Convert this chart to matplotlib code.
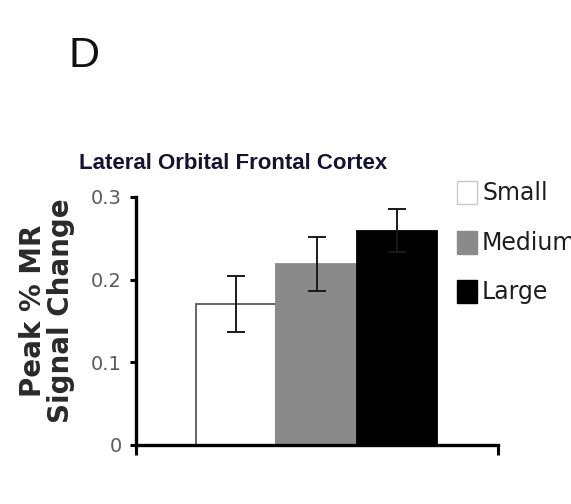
import matplotlib
matplotlib.use("Agg")
import matplotlib.pyplot as plt
from matplotlib.patches import Rectangle
from matplotlib import font_manager

# Data
sizes = ["Small", "Medium", "Large"]
peak_change = [0.171, 0.219, 0.259]
sem = [0.034, 0.033, 0.026]
yticks = [0, 0.1, 0.2, 0.3]
ytick_labels = ["0", "0.1", "0.2", "0.3"]

fill_colors = ["#ffffff", "#8a8a8a", "#000000"]
edge_colors = ["#5a5a5a", "#8a8a8a", "#000000"]

W, H = 571, 504
fig = plt.figure(figsize=(W / 100, H / 100), dpi=100)

def fx(px):
    return px / W

def fy(py):
    return 1 - py / H

installed = {f.name for f in font_manager.fontManager.ttflist}
title_family = "Liberation Sans Narrow" if "Liberation Sans Narrow" in installed else "Liberation Sans"
title_size = 18.5 if title_family == "Liberation Sans Narrow" else 16

ax = fig.add_axes([fx(136), fy(445), fx(498) - fx(136), fy(197) - fy(445)])

x = list(range(len(sizes)))
ax.bar(x, peak_change, width=1.0, color=fill_colors, edgecolor=edge_colors,
       linewidth=1.3, zorder=2)
ax.errorbar(x, peak_change, yerr=sem, fmt="none", ecolor="#1a1a1a",
            elinewidth=1.4, capsize=6.5, capthick=1.4, zorder=3)

ax.set_ylim(0, 0.3)
ax.set_xlim(-1.25, 3.26)

ax.set_yticks(yticks)
ax.set_yticklabels(ytick_labels, fontfamily="DejaVu Sans", fontsize=14,
                   color="#5a5a5a")
ax.set_xticks([-1.25, 3.26])
ax.set_xticklabels([])

for side in ("top", "right"):
    ax.spines[side].set_visible(False)
for side in ("left", "bottom"):
    ax.spines[side].set_linewidth(2.4)
    ax.spines[side].set_color("#000000")
ax.tick_params(axis="y", direction="out", length=4, width=2.2, pad=6, colors="#000000",
               labelcolor="#5a5a5a")
ax.tick_params(axis="x", direction="out", length=7, width=2.2, colors="#000000")

# Panel letter and title
fig.text(fx(69), fy(67), "D", fontfamily="Liberation Sans", fontsize=31,
         color="#111111", va="baseline", ha="left")
fig.text(fx(79), fy(169), "Lateral Orbital Frontal Cortex", fontfamily=title_family,
         fontweight="bold", fontsize=title_size, color="#141430",
         va="baseline", ha="left")

# Axis label
fig.text(fx(47), fy(311), "Peak % MR\nSignal Change", rotation=90,
         fontfamily="DejaVu Sans", fontweight="bold", fontsize=20,
         color="#2a2a2a", ha="center", va="center", multialignment="center",
         linespacing=1.0)

# Legend
legend_rows = [193, 243, 292]
for name, fc, row in zip(sizes, fill_colors, legend_rows):
    ec_leg = "#c8c8c8" if fc == "#ffffff" else fc
    fig.patches.append(Rectangle((fx(457), fy(row + 11)), fx(477) - fx(457),
                                 fy(row - 12) - fy(row + 11),
                                 transform=fig.transFigure, facecolor=fc,
                                 edgecolor=ec_leg, linewidth=1.0))
    fig.text(fx(482), fy(row), name, fontfamily="DejaVu Sans", fontsize=17,
             color="#1e1e1e", ha="left", va="center")

fig.savefig("out.png", dpi=100)
